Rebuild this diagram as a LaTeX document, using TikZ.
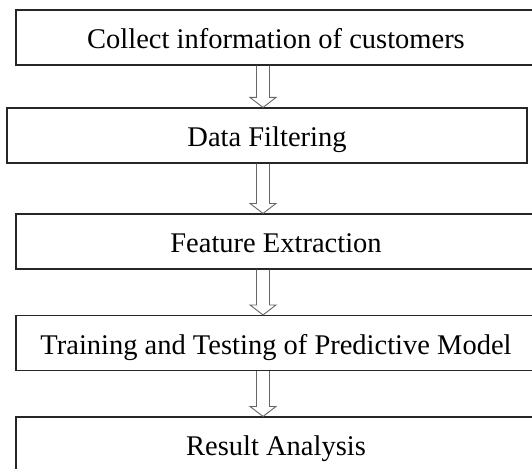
\documentclass[tikz,border=0pt]{standalone}
\usepackage{fontspec}
\setmainfont{Liberation Serif}
\usepackage{tikz}
\usetikzlibrary{calc}

\newcommand{\flowarrow}[2]{%
    \draw[hollow] ($(#1.south -| ax)+(-6.5,0)$) -- ($(#2.north -| ax)+(-6.5,-10)$) -- ($(#2.north -| ax)+(-13,-10)$) -- (#2.north -| ax) -- ($(#2.north -| ax)+(13,-10)$) -- ($(#2.north -| ax)+(6.5,-10)$) -- ($(#1.south -| ax)+(6.5,0)$);%
}

\begin{document}
\begin{tikzpicture}[x=1pt, y=-1pt,
    stage/.style={draw=black!85, line width=1.1pt, rectangle, minimum width=520pt, minimum height=55pt, text height=22pt, text depth=0pt, inner sep=0pt, font=\fontsize{28.5}{34}\selectfont},
    hollow/.style={draw=black!60, line width=0.9pt, line join=miter}]
    \useasboundingbox (0, 0) rectangle (532, 468);

    \node[stage] at (276, 37.5) (collect) {Collect information of customers};
    \node[stage] at (267, 135.5) (filter) {Data Filtering};
    \node[stage] at (276, 241.5) (feature) {Feature Extraction};
    \node[stage] at (276, 343) (train) {Training and Testing of Predictive Model};
    \node[stage] at (276, 444.5) (result) {Result Analysis};
    \coordinate (ax) at (263, 0);

    \flowarrow{collect}{filter}
    \flowarrow{filter}{feature}
    \flowarrow{feature}{train}
    \flowarrow{train}{result}
\end{tikzpicture}
\end{document}
